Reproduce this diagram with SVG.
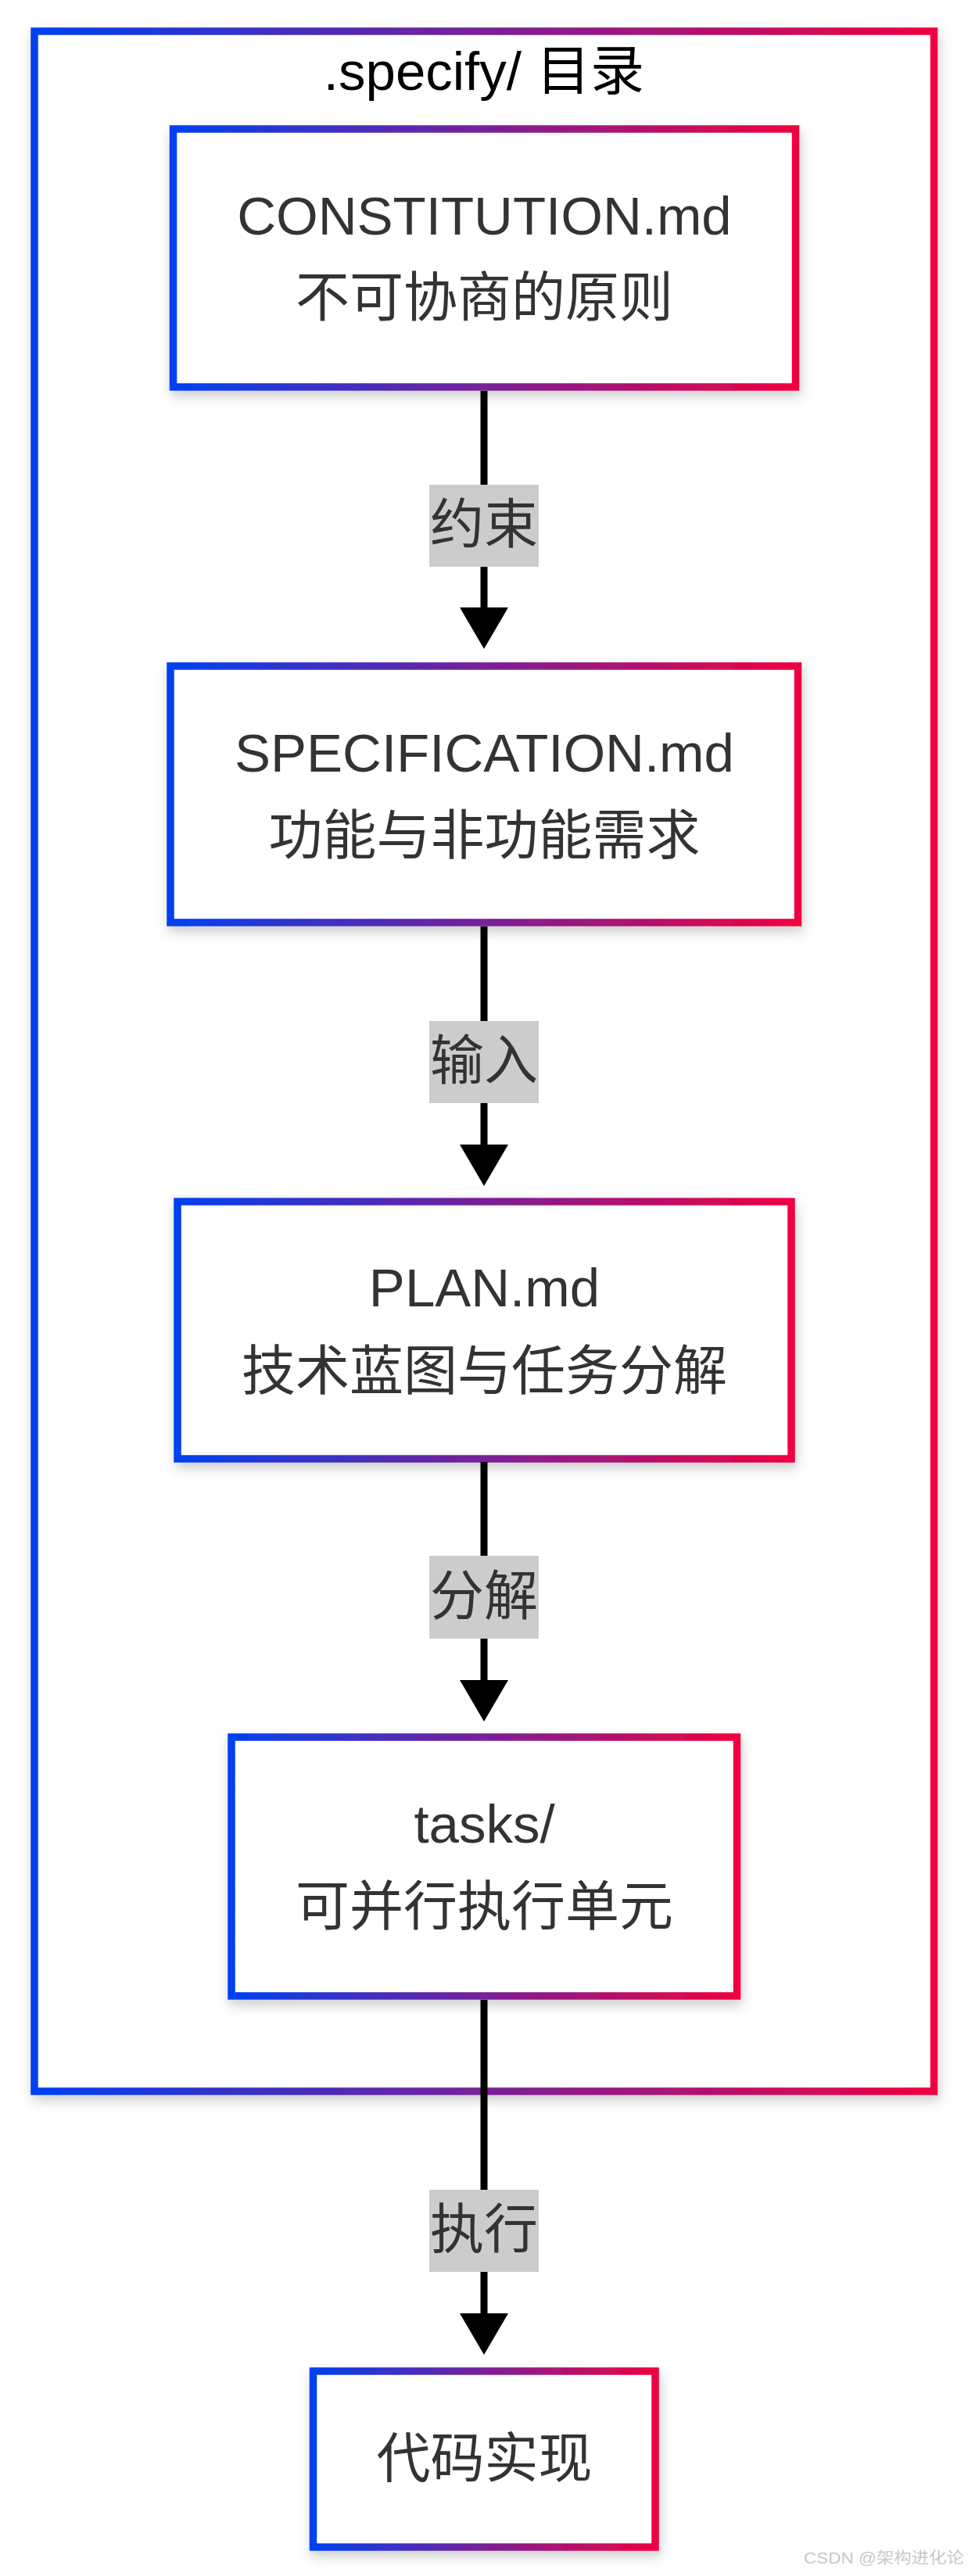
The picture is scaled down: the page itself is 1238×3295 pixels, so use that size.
<svg xmlns="http://www.w3.org/2000/svg" width="1238" height="3295" viewBox="0 0 1238 3295">
<defs>
<linearGradient id="g" x1="0" y1="0" x2="1" y2="0"><stop offset="0" stop-color="#0040f0"/><stop offset="1" stop-color="#f00040"/></linearGradient>
<filter id="sh" x="-10%" y="-10%" width="125%" height="130%"><feDropShadow dx="2" dy="7" stdDeviation="8" flood-color="#000" flood-opacity="0.2"/></filter>
<marker id="ah" markerUnits="userSpaceOnUse" markerWidth="53" markerHeight="62" viewBox="0 0 53 62" refX="0" refY="31" orient="auto"><path d="M0,0 L53,31 L0,62 Z" fill="#000"/></marker>
</defs>
<style>
.box{fill:#fff;stroke:url(#g);stroke-width:9.5;filter:url(#sh)}
.t{font-family:"Liberation Sans","Noto Sans CJK SC",sans-serif;font-size:69px;fill:#333;text-anchor:middle}
.title{fill:#000}
.edge{stroke:#000;stroke-width:9;fill:none;marker-end:url(#ah)}
.lbl{fill:#ccc}
.wm{font-family:"Liberation Sans","Noto Sans CJK SC",sans-serif;font-size:20px;fill:#c8c8c8;text-anchor:end}
</style>
<rect width="1238" height="3295" fill="#fff"/>
<g id="specify">
<rect class="box" x="44" y="40" width="1150.5" height="2635"/>
<text class="t title" x="619" y="115">.specify/ 目录</text>
</g>
<g id="constitution">
<rect class="box" x="221.5" y="165" width="796" height="330"/>
<text class="t" x="619.5" y="300">CONSTITUTION.md</text>
<text class="t" x="619.5" y="405">不可协商的原则</text>
</g>
<g id="specification">
<rect class="box" x="218" y="852" width="802.5" height="328"/>
<text class="t" x="619.5" y="987">SPECIFICATION.md</text>
<text class="t" x="619.5" y="1093">功能与非功能需求</text>
</g>
<g id="plan">
<rect class="box" x="227" y="1537" width="785" height="329"/>
<text class="t" x="619.5" y="1671">PLAN.md</text>
<text class="t" x="619.5" y="1778">技术蓝图与任务分解</text>
</g>
<g id="tasks">
<rect class="box" x="296" y="2222" width="646.5" height="331"/>
<text class="t" x="619.5" y="2357">tasks/</text>
<text class="t" x="619.5" y="2463">可并行执行单元</text>
</g>
<g id="code">
<rect class="box" x="400.5" y="3033" width="437.5" height="225"/>
<text class="t" x="619.5" y="3169">代码实现</text>
</g>
<g id="connectors">
<line class="edge" x1="619" y1="500" x2="619" y2="777"/>
<line class="edge" x1="619" y1="1185" x2="619" y2="1464"/>
<line class="edge" x1="619" y1="1870" x2="619" y2="2149"/>
<line class="edge" x1="619" y1="2558" x2="619" y2="2959"/>
<rect class="lbl" x="549" y="620" width="140" height="105"/>
<text class="t" x="619" y="695">约束</text>
<rect class="lbl" x="549" y="1306" width="140" height="105"/>
<text class="t" x="619" y="1381">输入</text>
<rect class="lbl" x="549" y="1990" width="140" height="106"/>
<text class="t" x="619" y="2066">分解</text>
<rect class="lbl" x="549" y="2801" width="140" height="105"/>
<text class="t" x="619" y="2876">执行</text>
</g>
<text class="wm" x="1233" y="3279" textLength="205" lengthAdjust="spacingAndGlyphs">CSDN @架构进化论</text>
</svg>
